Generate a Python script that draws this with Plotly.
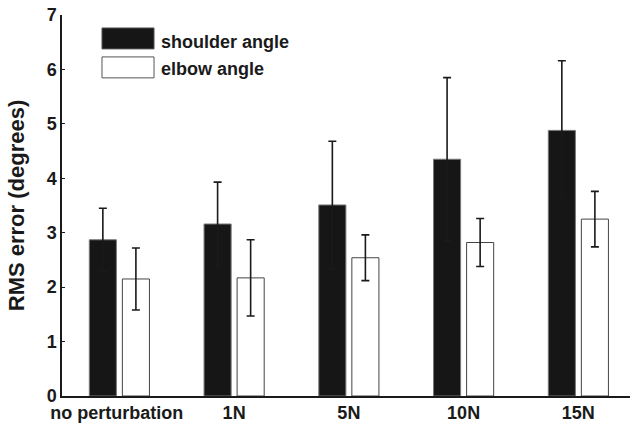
import plotly.graph_objects as go

categories = ["no perturbation", "1N", "5N", "10N", "15N"]
shoulder = [2.87, 3.16, 3.51, 4.35, 4.88]
shoulder_err = [0.58, 0.77, 1.17, 1.50, 1.28]
elbow = [2.15, 2.17, 2.54, 2.82, 3.25]
elbow_err = [0.57, 0.70, 0.42, 0.44, 0.51]
series_names = ["shoulder angle", "elbow angle"]
y_ticks = [0, 1, 2, 3, 4, 5, 6, 7]

FONT = "Liberation Sans, Arial, Helvetica, sans-serif"
TXT = "#1a1a1a"

xi = list(range(len(categories)))

fig = go.Figure()
fig.add_trace(go.Bar(
    x=xi, y=shoulder, name=series_names[0],
    width=0.236, offset=-0.262,
    marker=dict(color="#161616", line=dict(color="#777777", width=1)),
    error_y=dict(type="data", array=shoulder_err, visible=True,
                 color="#1a1a1a", thickness=1.6, width=4),
    showlegend=False,
))
fig.add_trace(go.Bar(
    x=xi, y=elbow, name=series_names[1],
    width=0.236, offset=0.026,
    marker=dict(color="#ffffff", line=dict(color="#444444", width=1)),
    error_y=dict(type="data", array=elbow_err, visible=True,
                 color="#1a1a1a", thickness=1.6, width=4),
    showlegend=False,
))

# legend drawn manually (large swatches as in the reference)
fig.add_shape(type="rect", xref="paper", yref="paper",
              x0=0.0704, x1=0.162, y0=0.911, y1=0.966,
              fillcolor="#161616", line=dict(color="#555555", width=1))
fig.add_shape(type="rect", xref="paper", yref="paper",
              x0=0.0704, x1=0.162, y0=0.835, y1=0.890,
              fillcolor="#ffffff", line=dict(color="#555555", width=1))
fig.add_annotation(xref="paper", yref="paper", x=0.170, y=0.930,
                   text="<b>" + series_names[0] + "</b>", showarrow=False,
                   xanchor="left", yanchor="middle",
                   font=dict(family=FONT, size=18, color=TXT))
fig.add_annotation(xref="paper", yref="paper", x=0.170, y=0.858,
                   text="<b>" + series_names[1] + "</b>", showarrow=False,
                   xanchor="left", yanchor="middle",
                   font=dict(family=FONT, size=18, color=TXT))

tick_text = ["<b>" + c + "</b>" for c in categories]
tick_text[0] = "<b>" + categories[0] + "&nbsp;</b>"

fig.update_layout(
    width=630, height=425,
    margin=dict(l=62, r=0, t=15, b=28.5),
    paper_bgcolor="white", plot_bgcolor="white",
    barmode="group",
    font=dict(family=FONT, size=18, color=TXT),
    xaxis=dict(
        range=[-0.5, 4.45],
        tickmode="array", tickvals=xi,
        ticktext=tick_text,
        showline=True, linecolor="#1a1a1a", linewidth=1.5,
        ticks="", showgrid=False, zeroline=False,
        tickfont=dict(family=FONT, size=18, color=TXT),
        ticklabelstandoff=0,
    ),
    yaxis=dict(
        range=[0, 7],
        tickmode="array", tickvals=y_ticks,
        ticktext=["<b>%d</b>" % v for v in y_ticks],
        showline=True, linecolor="#1a1a1a", linewidth=1.5,
        ticks="inside", ticklen=3, tickcolor="#1a1a1a",
        showgrid=False, zeroline=False,
        tickfont=dict(family=FONT, size=18, color=TXT),
        title=dict(text="<b>RMS error (degrees)</b>",
                   font=dict(family=FONT, size=22, color=TXT), standoff=16),
    ),
)

fig.write_html("out.html")
